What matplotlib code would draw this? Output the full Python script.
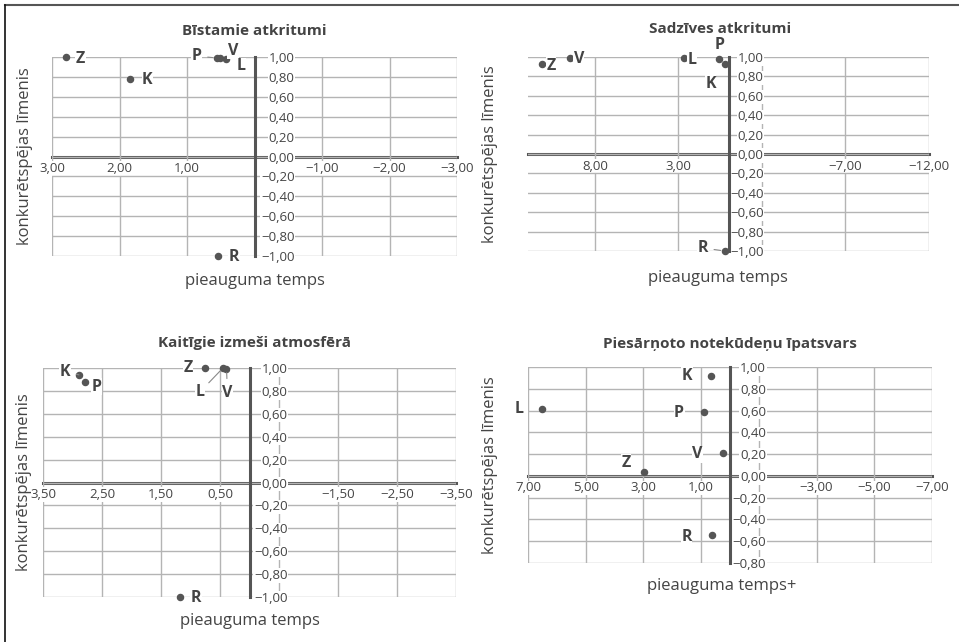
import matplotlib.pyplot as plt
from matplotlib.lines import Line2D

plt.rcParams['font.family'] = ['Open Sans', 'DejaVu Sans']

# ---- data ----
titles = ["Bīstamie atkritumi", "Sadzīves atkritumi",
          "Kaitīgie izmeši atmosfērā", "Piesārņoto notekūdeņu īpatsvars"]
xlabels = ["pieauguma temps", "pieauguma temps",
           "pieauguma temps", "pieauguma temps+"]
ylabel = "konkurētspējas līmenis"

names1 = ["Z", "K", "P", "V", "L", "R"]
x1 = [2.80, 1.84, 0.56, 0.51, 0.42, 0.54]
y1 = [1.00, 0.78, 0.99, 0.99, 0.98, -1.00]

names2 = ["Z", "V", "L", "P", "K", "R"]
x2 = [11.15, 9.50, 2.68, 0.56, 0.18, 0.22]
y2 = [0.93, 0.99, 0.99, 0.975, 0.93, -1.00]

names3 = ["K", "P", "Z", "L", "V", "R"]
x3 = [2.89, 2.79, 0.75, 0.45, 0.39, 1.18]
y3 = [0.94, 0.88, 1.00, 1.00, 0.995, -1.00]

names4 = ["K", "L", "P", "V", "Z", "R"]
x4 = [0.66, 6.52, 0.90, 0.23, 2.97, 0.61]
y4 = [0.92, 0.61, 0.59, 0.21, 0.04, -0.545]

xlims = [(3, -3), (12, -12), (3.5, -3.5), (7, -7)]
ylims = [(-1, 1), (-1, 1), (-1, 1), (-0.8, 1)]
xticks = [[3, 2, 1, 0, -1, -2, -3],
          [8, 3, -2, -7, -12],
          [3.5, 2.5, 1.5, 0.5, -0.5, -1.5, -2.5, -3.5],
          [7, 5, 3, 1, -1, -3, -5, -7]]
xhidden = [[0], [-2], [-0.5], [-1]]

# label offsets in pixels (dx, dy up), and whether a leader line is drawn
offs = [
    [(15, -2, 0), (17, -1, 0), (-20, 2, 1), (13, 7, 0), (15, -7, 0), (16, -1, 0)],
    [(9, -2, 0), (9, -1, 0), (8, -2, 0), (0, 14, 0), (-15, -20, 0), (-22, 3, 1)],
    [(-14, 3, 1), (12, -5, 0), (-17, 0, 0), (-23, -24, 1), (1, -24, 1), (16, -1, 0)],
    [(-24, 0, 0), (-23, 0, 0), (-25, -1, 0), (-26, -1, 0), (-18, 9, 0), (-26, -2, 0)],
]

# axes rectangles in pixels: left, right, top, bottom
W, H = 959, 642
rects = [(52, 457, 57, 256), (528, 929, 57, 251), (43, 456, 368, 597), (528, 932, 367, 563)]
ylab_pad = [40, 35, 38, 36]
xlab_pos = [(0.50, -0.085), (0.474, -0.098), (0.50, -0.068), (0.48, -0.075)]
ylab_pos = [-0.047, -0.075, -0.027, -0.074]
title_pos = [(0.50, 1.13), (0.479, 1.145), (0.513, 1.11), (0.50, 1.117)]

series = [(names1, x1, y1), (names2, x2, y2), (names3, x3, y3), (names4, x4, y4)]

txt = '#444444'
fig = plt.figure(figsize=(W / 100, H / 100), dpi=100)

def fmt(v):
    s = f"{abs(v):.2f}".replace('.', ',')
    return ('\u2212' + s) if v < 0 else s

for i in range(4):
    l, r, t, b = rects[i]
    ax = fig.add_axes([l / W, 1 - b / H, (r - l) / W, (b - t) / H])
    names, xs, ys = series[i]

    ax.set_xlim(*xlims[i])
    ax.set_ylim(*ylims[i])
    ax.set_xticks(xticks[i], [('' if v in xhidden[i] else fmt(v)) for v in xticks[i]])
    yt = [round(ylims[i][0] + 0.2 * k, 2) for k in range(int(round((ylims[i][1] - ylims[i][0]) / 0.2)) + 1)]
    ax.set_yticks(yt, [fmt(v) for v in yt])
    ax.grid(True, color='#b4b4b4', lw=1)
    ax.set_axisbelow(True)
    # gridlines at zero sit under the axis lines
    for tk in ax.xaxis.get_major_ticks() + ax.yaxis.get_major_ticks():
        if abs(tk.get_loc()) < 1e-9:
            tk.gridline.set_visible(False)

    for s in ['top', 'left']:
        ax.spines[s].set_visible(False)
    ax.spines['bottom'].set_position(('data', 0))
    ax.spines['right'].set_position(('data', 0))
    for s in ['bottom', 'right']:
        ax.spines[s].set_color('#555555')
        ax.spines[s].set_linewidth(2.2)
    # horizontal axis line under the value labels, vertical one above them
    ax.spines['bottom'].set_zorder(0.4)
    ax.spines['right'].set_zorder(2.5)

    ax.yaxis.tick_right()
    ax.tick_params(axis='both', length=0, labelsize=9.5, labelcolor=txt)
    ax.tick_params(axis='x', pad=4)
    ax.tick_params(axis='y', pad=ylab_pad[i] * 0.72)
    for lb in ax.get_yticklabels():
        lb.set_ha('right')
        lb.set_bbox(dict(facecolor='white', edgecolor='none', pad=0.5))
    for lb in ax.get_xticklabels():
        lb.set_bbox(dict(facecolor='white', edgecolor='none', pad=0.5))

    ax.plot(xs, ys, 'o', color='#555555', ms=4.4, zorder=5, clip_on=False)
    for n, xv, yv, (dx, dy, lead) in zip(names, xs, ys, offs[i]):
        ap = dict(arrowstyle='-', color='#888888', lw=0.8, shrinkA=4, shrinkB=3) if lead else None
        ax.annotate(n, (xv, yv), xytext=(dx * 0.72, dy * 0.72), textcoords='offset points',
                    ha='center', va='center', fontsize=11.5, fontweight='bold', color=txt,
                    bbox=dict(facecolor='white', edgecolor='none', pad=0.3),
                    arrowprops=ap, zorder=6, annotation_clip=False)

    ax.set_xlabel(xlabels[i], fontsize=12, color=txt)
    ax.xaxis.set_label_coords(*xlab_pos[i])
    ax.yaxis.set_label_position('left')
    ax.set_ylabel(ylabel, fontsize=12, color=txt)
    ax.yaxis.set_label_coords(ylab_pos[i], 0.5)
    ax.text(title_pos[i][0], title_pos[i][1], titles[i], transform=ax.transAxes,
            ha='center', va='center', fontsize=11, fontweight='bold', color=txt)

# outer frame lines (top and left only)
fig.add_artist(Line2D([5 / W, 1], [1 - 5 / H, 1 - 5 / H], color='#555555', lw=1.5))
fig.add_artist(Line2D([5 / W, 5 / W], [0, 1 - 5 / H], color='#111111', lw=1.2))

fig.savefig('out.png', dpi=100)
